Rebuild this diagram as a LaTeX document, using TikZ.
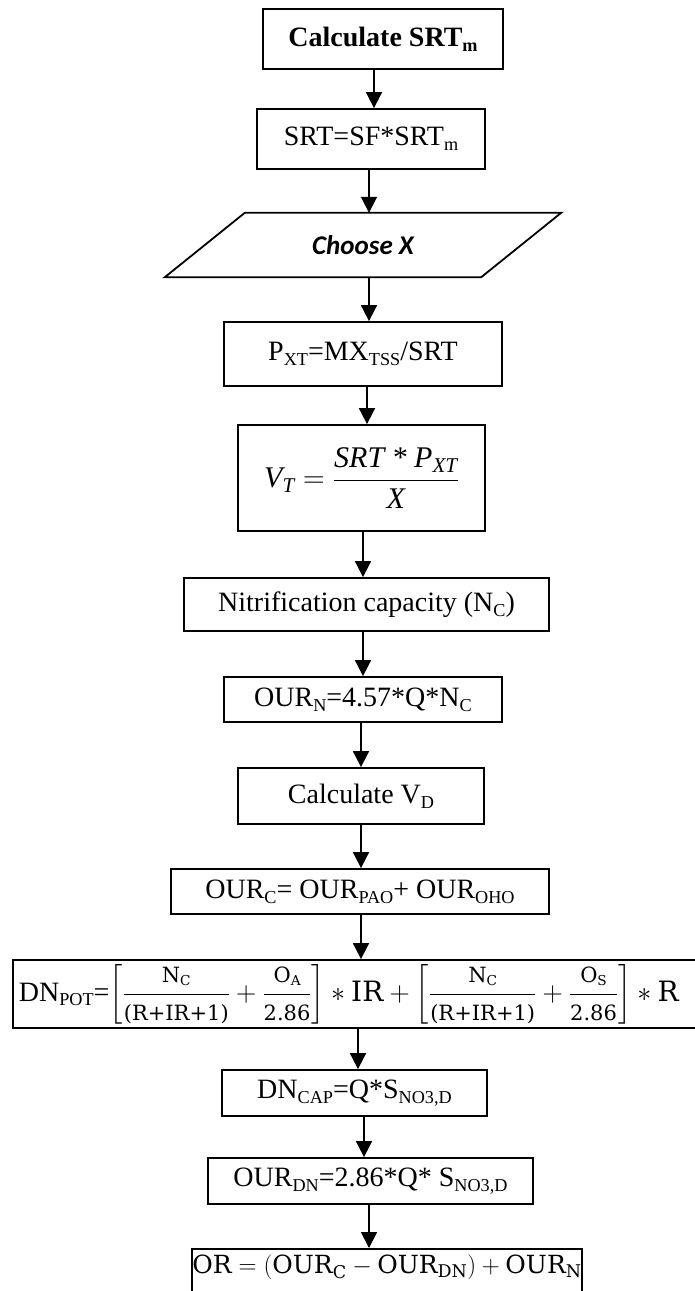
\RequirePackage{fix-cm}
\documentclass[tikz,border=0pt]{standalone}
\usepackage{fontspec}
\usepackage{amsmath}
\usepackage{graphicx}
\setmainfont{Liberation Serif}
\newfontfamily\carl{Carlito}
\newfontfamily\camf{DejaVu Serif}
\usetikzlibrary{arrows.meta,calc}
\newcommand\sbs[1]{\raisebox{-0.17em}{\scalebox{0.65}{#1}}}
\newcommand\cm[1]{\text{\camf #1}}
\newcommand\fr[2]{\dfrac{\mbox{\camf\fontsize{21}{23}\selectfont #1}}{\mbox{\camf\fontsize{21}{23}\selectfont #2}}}
\begin{document}
\begin{tikzpicture}[x=1pt,y=-1pt,
  box/.style={draw, line width=1.8pt, inner sep=0pt, align=center, font=\fontsize{28}{34}\selectfont},
  arr/.style={line width=1.8pt, -{Triangle[length=16pt,width=16pt]}},
  edge/.style={line width=1.8pt}]
\clip (0,0) rectangle (695,1291);
% nodes
\node[box, minimum width=240pt, minimum height=60pt] (b1) at (383,39) {\bfseries Calculate SRT\sbs{m}};
\node[box, minimum width=228pt, minimum height=60pt] (b2) at (371,139) {SRT=SF*SRT\sbs{m}};
\node[inner sep=0pt, minimum width=396pt, minimum height=64pt] (par) at (363,245) {\carl\bfseries\itshape\fontsize{27}{32}\selectfont Choose X};
\draw[edge, line join=miter] ($(par.north west)+(80,0)$) -- (par.north east) -- ($(par.south east)+(-80,0)$) -- (par.south west) -- cycle;
\node[box, minimum width=278pt, minimum height=64pt] (b3) at (363,354) {P\sbs{XT}=MX\sbs{TSS}/SRT};
\node[box, minimum width=247pt, minimum height=106pt, font=\fontsize{30}{36}\selectfont] (b4) at (361.5,478)
  {$\textit{V}_{\textit{T}} = \dfrac{\textit{SRT * P}_{\textit{XT}}}{\textit{X}}$};
\node[box, minimum width=365pt, minimum height=53pt] (b5) at (366.5,604.5) {Nitrification capacity (N\sbs{C})};
\node[box, minimum width=278pt, minimum height=45pt] (b6) at (363,699.5) {OUR\sbs{N}=4.57*Q*N\sbs{C}};
\node[box, minimum width=246pt, minimum height=56pt] (b7) at (361,796) {Calculate V\sbs{D}};
\node[box, minimum width=378pt, minimum height=45pt] (b8) at (360,891.5) {OUR\sbs{C}= OUR\sbs{PAO}+ OUR\sbs{OHO}};
\node[box, anchor=west, text width=680pt, align=left, minimum height=68pt, inner xsep=6pt] (b9) at (12,994)
  {DN\sbs{POT}={\fontsize{28}{33}\selectfont$\left[\fr{N\sbs{C}}{(R+IR+1)}+\fr{O\sbs{A}}{2.86}\right]\ast\cm{IR}+\left[\fr{N\sbs{C}}{(R+IR+1)}+\fr{O\sbs{S}}{2.86}\right]\ast\cm{R}$}};
\node[box, minimum width=265pt, minimum height=46pt] (b10) at (354.5,1093) {DN\sbs{CAP}=Q*S\sbs{NO3,D}};
\node[box, minimum width=325pt, minimum height=46pt] (b11) at (370.5,1181) {OUR\sbs{DN}=2.86*Q* S\sbs{NO3,D}};
\node[box, anchor=north, minimum width=380pt, inner ysep=6pt, text depth=30pt, font=\fontsize{25}{30}\selectfont] (b12) at (387,1248)
  {$\cm{OR}=(\cm{OUR}_{\cm{C}}-\cm{OUR}_{\cm{DN}})+\cm{OUR}_{\cm{N}}$};
% arrow columns
\coordinate (c1) at (374,0);
\coordinate (c2) at (369,0);
\coordinate (c3) at (367,0);
\coordinate (c4) at (363,0);
\coordinate (c5) at (361,0);
\coordinate (c6) at (358,0);
\coordinate (c7) at (364,0);
\draw[arr] (b1.south -| c1) -- (b2.north -| c1);
\draw[arr] (b2.south -| c2) -- (par.north -| c2);
\draw[arr] (par.south -| c2) -- (b3.north -| c2);
\draw[arr] (b3.south -| c3) -- (b4.north -| c3);
\draw[arr] (b4.south -| c4) -- (b5.north -| c4);
\draw[arr] (b5.south -| c4) -- (b6.north -| c4);
\draw[arr] (b6.south -| c5) -- (b7.north -| c5);
\draw[arr] (b7.south -| c5) -- (b8.north -| c5);
\draw[arr] (b8.south -| c5) -- (b9.north -| c5);
\draw[arr] (b9.south -| c6) -- (b10.north -| c6);
\draw[arr] (b10.south -| c7) -- (b11.north -| c7);
\draw[arr] (b11.south -| c2) -- (b12.north -| c2);
\end{tikzpicture}
\end{document}
